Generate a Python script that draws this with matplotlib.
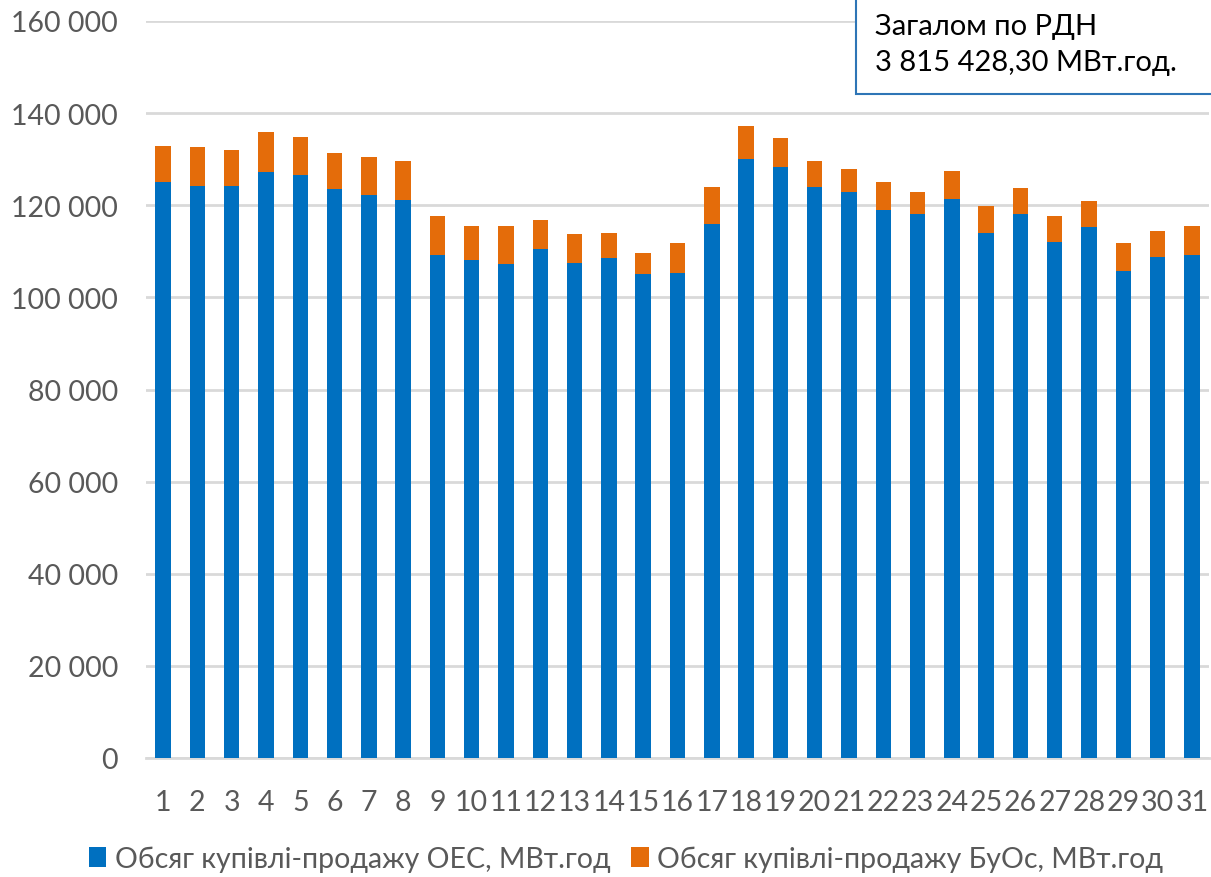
import matplotlib
matplotlib.use('Agg')
import matplotlib.pyplot as plt
import matplotlib.patches as patches
import numpy as np

days = [str(d) for d in range(1, 32)]

# обсяг ОЕС (синій), МВт.год
oes = [125.0, 124.2, 124.2, 127.3, 126.5, 123.5, 122.2, 121.1, 109.1, 108.1,
       107.3, 110.6, 107.5, 108.6, 105.1, 105.4, 115.9, 130.1, 128.4, 124.0,
       122.9, 119.0, 118.2, 121.4, 114.0, 118.2, 112.0, 115.3, 105.7, 108.7,
       109.1]
# загальна висота стовпчика (ОЕС + БуОс)
totals = [132.8, 132.6, 131.9, 135.8, 134.8, 131.3, 130.5, 129.5, 117.6, 115.6,
          115.5, 116.9, 113.8, 114.0, 109.7, 111.8, 124.0, 137.1, 134.5, 129.6,
          127.8, 125.1, 122.9, 127.5, 119.8, 123.7, 117.7, 121.0, 111.7, 114.5,
          115.4]

oes = np.array(oes) * 1000
buos = np.array(totals) * 1000 - oes

label_oes = 'Обсяг купівлі-продажу ОЕС, МВт.год'
label_buos = 'Обсяг купівлі-продажу БуОс, МВт.год'
total_text = 'Загалом по РДН\n3 815 428,30 МВт.год.'

blue = '#0070C0'
orange = '#E46C0A'
grey_text = '#595959'

plt.rcParams['font.family'] = ['Lato', 'DejaVu Sans']

fig = plt.figure(figsize=(12.11, 8.78), dpi=100)
ax = fig.add_axes([146 / 1211, 1 - 759 / 878, 1063 / 1211, 737 / 878])

x = np.arange(len(days))
ax.bar(x, oes, width=0.45, color=blue, label=label_oes, zorder=3)
ax.bar(x, buos, width=0.45, bottom=oes, color=orange, label=label_buos, zorder=3)

ax.set_xlim(-0.5, len(days) - 0.5)
ax.set_ylim(0, 160000)
ax.set_yticks(np.arange(0, 160001, 20000))
ax.set_yticklabels([f'{v:,}'.replace(',', ' ') for v in range(0, 160001, 20000)])
ax.set_xticks(x)
ax.set_xticklabels(days)
ax.yaxis.grid(True, color='#D9D9D9', linewidth=2, zorder=0)
ax.tick_params(axis='both', length=0, labelsize=20.5, colors=grey_text)
ax.tick_params(axis='y', pad=20)
ax.tick_params(axis='x', pad=22)
for s in ax.spines.values():
    s.set_visible(False)
ax.spines['bottom'].set_visible(True)
ax.spines['bottom'].set_color('#D9D9D9')
ax.spines['bottom'].set_linewidth(2)

leg = fig.legend(loc='center', bbox_to_anchor=(626 / 1211, 1 - 860 / 878), ncol=2,
                 frameon=False, fontsize=20.5, handlelength=0.6, handleheight=0.7,
                 handletextpad=0.3, columnspacing=0.75)
for t in leg.get_texts():
    t.set_color(grey_text)

box = patches.Rectangle((856 / 1211, 1 - 95 / 878), 0.4, 0.2, transform=fig.transFigure,
                        facecolor='white', edgecolor='#2E75B6', linewidth=1.5, zorder=5)
fig.patches.append(box)
fig.text(875 / 1211, 1 - 45 / 878, total_text, fontsize=21, color='black',
         va='center', ha='left', linespacing=1.45, zorder=6)

fig.savefig('out.png', dpi=100)
